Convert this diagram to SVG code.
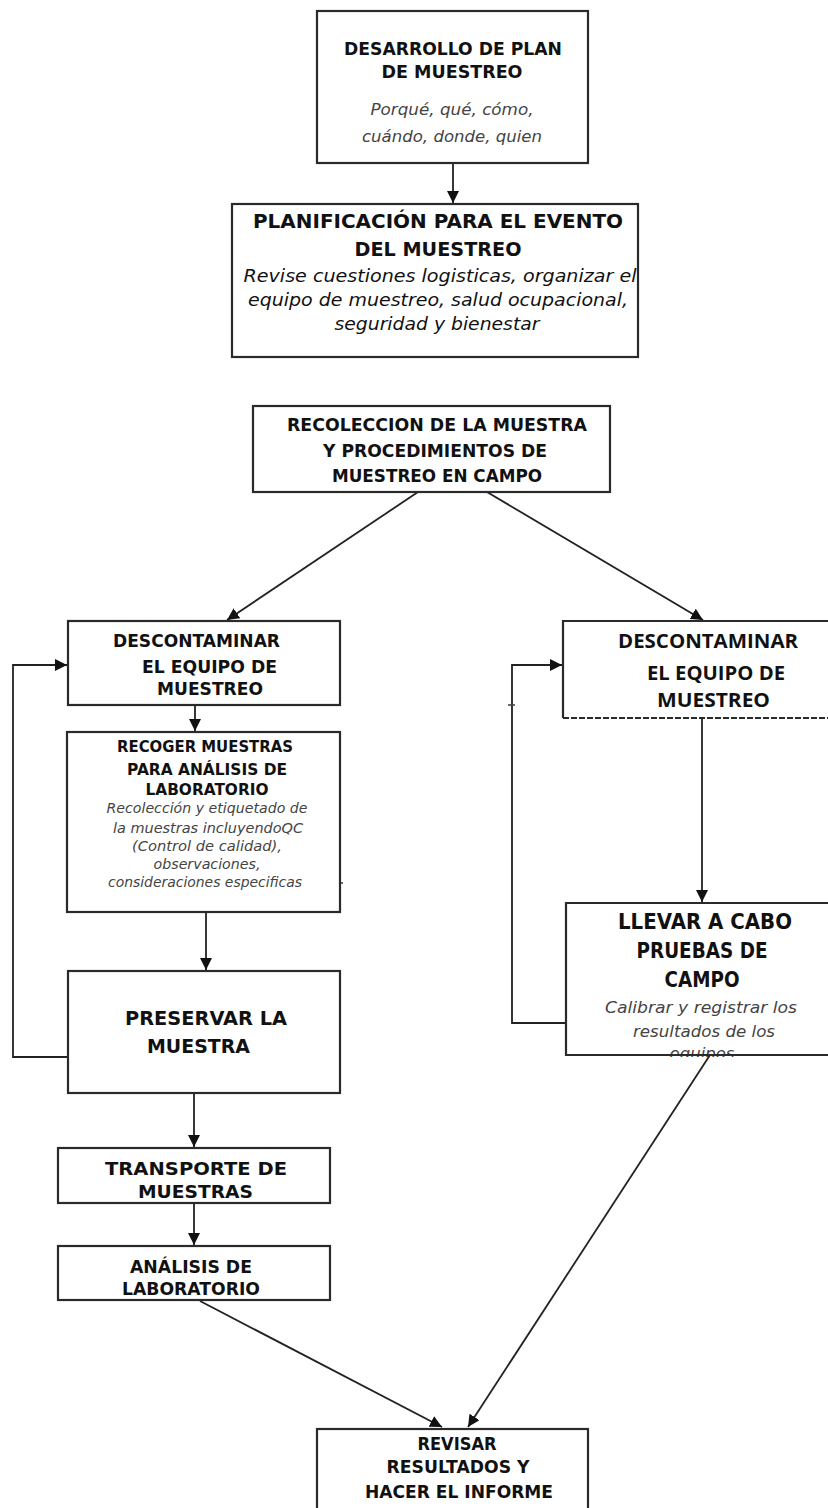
<svg xmlns="http://www.w3.org/2000/svg" width="828" height="1508" viewBox="0 0 828 1508">
  <defs>
    <marker id="arr" viewBox="0 0 12 12" refX="12" refY="6" markerWidth="12" markerHeight="12" markerUnits="userSpaceOnUse" orient="auto">
      <path d="M0,0 L12,6 L0,12 Z" fill="#111"/>
    </marker>
    <clipPath id="clipLlevar">
      <rect x="560" y="900" width="268" height="157"/>
    </clipPath>
  </defs>
  <style>
    .box { fill: #fff; stroke: #2a2a2a; stroke-width: 2.2; }
    .edge { fill: none; stroke: #2a2a2a; stroke-width: 2.2; }
    .dash { fill: none; stroke: #2a2a2a; stroke-width: 2; stroke-dasharray: 6 2; }
    .con { fill: none; stroke: #222; stroke-width: 1.8; marker-end: url(#arr); }
    .mark { fill: none; stroke: #444; stroke-width: 1.6; }
    .t { font-family: "DejaVu Sans", "Liberation Sans", sans-serif; font-weight: bold; fill: #111; text-anchor: middle; }
    .c { font-family: "Open Sans", "Liberation Sans", sans-serif; font-weight: bold; fill: #111; text-anchor: middle; }
    .i { font-family: "DejaVu Sans", "Liberation Sans", sans-serif; font-style: italic; fill: #444; text-anchor: middle; }
    .ik { fill: #111; }
  </style>
  <rect width="828" height="1508" fill="#fff"/>

  <!-- connectors -->
  <g id="connectors">
    <path class="con" d="M453,163 V203"/>
    <path class="con" d="M418,492 L227,620"/>
    <path class="con" d="M487,492 L703,620"/>
    <path class="con" d="M68,1057 H13 V665 H67"/>
    <path class="con" d="M195,705 V731"/>
    <path class="con" d="M206,912 V970"/>
    <path class="con" d="M194,1093 V1147"/>
    <path class="con" d="M194,1203 V1245"/>
    <path class="con" d="M200,1301 L442,1427"/>
    <path class="con" d="M566,1023 H512 V665 H562"/>
    <path class="con" d="M702,718 V902"/>
    <path class="con" d="M710,1055 L468,1427"/>
  </g>

  <!-- small stray marks -->
  <g id="marks">
    <path class="mark" d="M508,705 H515"/>
    <path class="mark" stroke-dasharray="6 3" d="M583,490 H609"/>
    <path class="mark" stroke-dasharray="6 3" d="M307,1092 H331"/>
    <path class="mark" d="M340,883 H343"/>
  </g>

  <g id="plan">
    <rect class="box" x="317" y="11" width="271" height="152"/>
    <text class="t" font-size="18" x="453" y="55" textLength="218" lengthAdjust="spacingAndGlyphs">DESARROLLO DE PLAN</text>
    <text class="t" font-size="18" x="452" y="78" textLength="141" lengthAdjust="spacingAndGlyphs">DE MUESTREO</text>
    <text class="i" font-size="15" x="452" y="115" textLength="163" lengthAdjust="spacingAndGlyphs">Porqué, qué, cómo,</text>
    <text class="i" font-size="15" x="452" y="142" textLength="180" lengthAdjust="spacingAndGlyphs">cuándo, donde, quien</text>
  </g>

  <g id="planificacion">
    <rect class="box" x="232" y="204" width="406" height="153"/>
    <text class="t" font-size="19.5" x="438" y="228" textLength="370" lengthAdjust="spacingAndGlyphs">PLANIFICACIÓN PARA EL EVENTO</text>
    <text class="t" font-size="19.5" x="438" y="256" textLength="167" lengthAdjust="spacingAndGlyphs">DEL MUESTREO</text>
    <text class="i ik" font-size="17" x="440" y="282" textLength="393" lengthAdjust="spacingAndGlyphs">Revise cuestiones logisticas, organizar el</text>
    <text class="i ik" font-size="17" x="438" y="306" textLength="380" lengthAdjust="spacingAndGlyphs">equipo de muestreo, salud ocupacional,</text>
    <text class="i ik" font-size="17" x="437" y="330" textLength="205" lengthAdjust="spacingAndGlyphs">seguridad y bienestar</text>
  </g>

  <g id="recoleccion">
    <rect class="box" x="253" y="406" width="357" height="86"/>
    <text class="t" font-size="17" x="437" y="431" textLength="300" lengthAdjust="spacingAndGlyphs">RECOLECCION DE LA MUESTRA</text>
    <text class="t" font-size="17" x="435" y="457" textLength="224" lengthAdjust="spacingAndGlyphs">Y PROCEDIMIENTOS DE</text>
    <text class="t" font-size="17" x="437" y="482" textLength="210" lengthAdjust="spacingAndGlyphs">MUESTREO EN CAMPO</text>
  </g>

  <g id="descontaminar-izq">
    <rect class="box" x="68" y="621" width="272" height="84"/>
    <text class="t" font-size="17" x="196.5" y="647" textLength="167" lengthAdjust="spacingAndGlyphs">DESCONTAMINAR</text>
    <text class="t" font-size="17" x="209.5" y="673" textLength="135" lengthAdjust="spacingAndGlyphs">EL EQUIPO DE</text>
    <text class="t" font-size="17" x="210" y="695" textLength="106" lengthAdjust="spacingAndGlyphs">MUESTREO</text>
  </g>

  <g id="recoger">
    <rect class="box" x="67" y="732" width="273" height="180"/>
    <text class="t" font-size="16" x="205" y="752" textLength="176" lengthAdjust="spacingAndGlyphs">RECOGER MUESTRAS</text>
    <text class="t" font-size="16" x="207" y="775" textLength="160" lengthAdjust="spacingAndGlyphs">PARA ANÁLISIS DE</text>
    <text class="t" font-size="16" x="207" y="795" textLength="123" lengthAdjust="spacingAndGlyphs">LABORATORIO</text>
    <text class="i" font-size="13.5" x="207" y="813" textLength="201" lengthAdjust="spacingAndGlyphs">Recolección y etiquetado de</text>
    <text class="i" font-size="13.5" x="208" y="833" textLength="190" lengthAdjust="spacingAndGlyphs">la muestras incluyendoQC</text>
    <text class="i" font-size="13.5" x="207" y="851" textLength="150" lengthAdjust="spacingAndGlyphs">(Control de calidad),</text>
    <text class="i" font-size="13.5" x="207" y="869" textLength="107" lengthAdjust="spacingAndGlyphs">observaciones,</text>
    <text class="i" font-size="13.5" x="205" y="887" textLength="194" lengthAdjust="spacingAndGlyphs">consideraciones especificas</text>
  </g>

  <g id="preservar">
    <rect class="box" x="68" y="971" width="272" height="122"/>
    <text class="t" font-size="19.5" x="206" y="1025" textLength="162" lengthAdjust="spacingAndGlyphs">PRESERVAR LA</text>
    <text class="t" font-size="19.5" x="198.5" y="1053" textLength="103" lengthAdjust="spacingAndGlyphs">MUESTRA</text>
  </g>

  <g id="transporte">
    <rect class="box" x="58" y="1148" width="272" height="55"/>
    <text class="t" font-size="18.5" x="196" y="1175" textLength="182" lengthAdjust="spacingAndGlyphs">TRANSPORTE DE</text>
    <text class="t" font-size="18.5" x="195.5" y="1198" textLength="115" lengthAdjust="spacingAndGlyphs">MUESTRAS</text>
  </g>

  <g id="analisis">
    <rect class="box" x="58" y="1246" width="272" height="54"/>
    <text class="t" font-size="17.5" x="191" y="1273" textLength="122" lengthAdjust="spacingAndGlyphs">ANÁLISIS DE</text>
    <text class="t" font-size="17.5" x="191" y="1295" textLength="138" lengthAdjust="spacingAndGlyphs">LABORATORIO</text>
  </g>

  <g id="descontaminar-der">
    <rect x="563" y="621" width="270" height="97" fill="#fff"/>
    <path class="edge" d="M830,621 H563 V718"/>
    <path class="dash" d="M563,718 H830"/>
    <text class="c" font-size="19.5" x="708" y="648" textLength="180" lengthAdjust="spacingAndGlyphs">DESCONTAMINAR</text>
    <text class="c" font-size="19.5" x="716" y="680" textLength="138" lengthAdjust="spacingAndGlyphs">EL EQUIPO DE</text>
    <text class="c" font-size="19.5" x="713.5" y="707" textLength="113" lengthAdjust="spacingAndGlyphs">MUESTREO</text>
  </g>

  <g id="pruebas-campo">
    <rect x="566" y="903" width="266" height="152" fill="#fff"/>
    <text class="t" font-size="20.5" x="705" y="929" textLength="174" lengthAdjust="spacingAndGlyphs">LLEVAR A CABO</text>
    <text class="t" font-size="20.5" x="702" y="958" textLength="131" lengthAdjust="spacingAndGlyphs">PRUEBAS DE</text>
    <text class="t" font-size="20.5" x="702" y="987" textLength="75" lengthAdjust="spacingAndGlyphs">CAMPO</text>
    <text class="i" font-size="16" x="701" y="1013" textLength="192" lengthAdjust="spacingAndGlyphs">Calibrar y registrar los</text>
    <text class="i" font-size="16" x="704" y="1037" textLength="142" lengthAdjust="spacingAndGlyphs">resultados de los</text>
    <text class="i" font-size="16" x="702" y="1059" textLength="65" lengthAdjust="spacingAndGlyphs" clip-path="url(#clipLlevar)">equipos</text>
    <path class="edge" d="M830,903 H566 V1055 H830"/>
  </g>

  <g id="revisar">
    <rect class="box" x="317" y="1429" width="271" height="100"/>
    <text class="t" font-size="17" x="457" y="1450" textLength="79" lengthAdjust="spacingAndGlyphs">REVISAR</text>
    <text class="t" font-size="17" x="458" y="1473" textLength="143" lengthAdjust="spacingAndGlyphs">RESULTADOS Y</text>
    <text class="t" font-size="17" x="459" y="1498" textLength="188" lengthAdjust="spacingAndGlyphs">HACER EL INFORME</text>
  </g>
</svg>
